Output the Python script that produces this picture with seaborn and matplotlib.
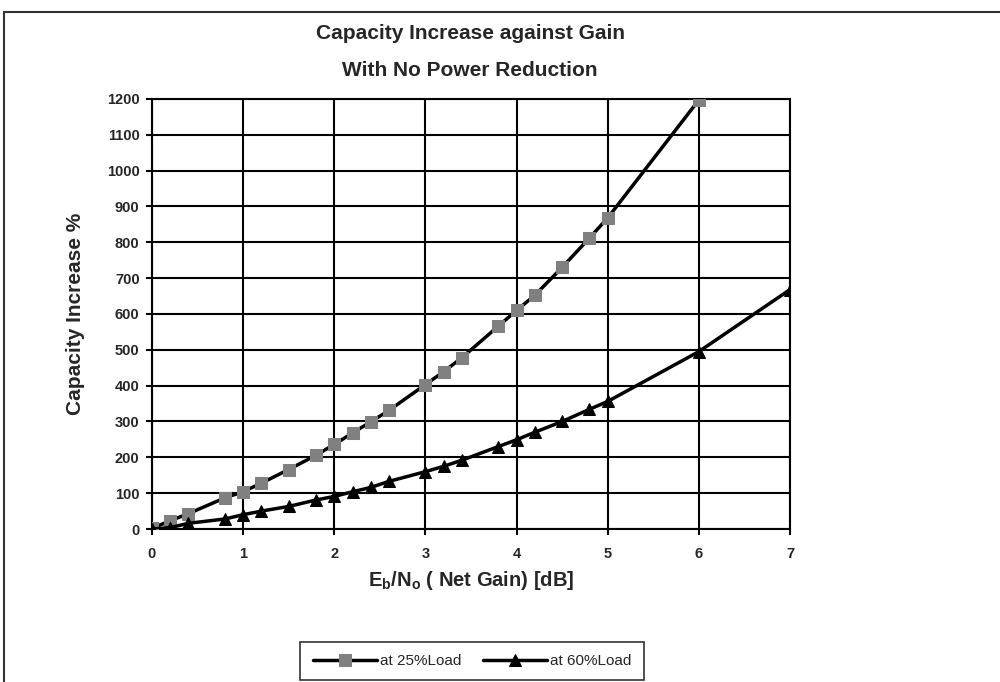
import numpy as np
import pandas as pd
import matplotlib
matplotlib.use("Agg")
import matplotlib.pyplot as plt
import seaborn as sns
from matplotlib.patches import Rectangle

sns.set_style("white")
plt.rcParams['font.family'] = ['Liberation Sans', 'DejaVu Sans']

# gain in dB
gain = [0, 0.2, 0.4, 0.8, 1.0, 1.2, 1.5, 1.8, 2.0, 2.2, 2.4, 2.6, 3.0, 3.2, 3.4,
        3.8, 4.0, 4.2, 4.5, 4.8, 5.0, 6.0]
gain60 = gain + [7.0]
load25 = [2, 23, 43, 87, 104, 128, 166, 206, 236, 268, 299, 331, 403, 439, 478,
          566, 610, 652, 730, 812, 868, 1197]
load60 = [0, 4, 16, 28, 40, 50, 63, 81, 91, 104, 116, 133, 160, 175, 192,
          230, 249, 270, 300, 334, 356, 495, 668]

df25 = pd.DataFrame({"gain": gain, "cap": load25})
df60 = pd.DataFrame({"gain": gain60, "cap": load60})

fig = plt.figure(figsize=(10, 6.82), dpi=100)
ax = fig.add_axes([0.152, 0.2243, 0.638, 0.6307])

sns.lineplot(data=df25, x="gain", y="cap", ax=ax, color="black", lw=2.5,
             marker="s", markersize=8, markerfacecolor="#808080",
             markeredgecolor="#808080", label="at 25%Load", zorder=3)
sns.lineplot(data=df60, x="gain", y="cap", ax=ax, color="black", lw=2.5,
             marker="^", markersize=9, markerfacecolor="black",
             markeredgecolor="black", label="at 60%Load", zorder=3)

ax.set_xlim(0, 7)
ax.set_ylim(0, 1200)
ax.set_xticks(range(0, 8))
ax.set_yticks(range(0, 1201, 100))
ax.grid(True, color="black", lw=1.5)
for s in ax.spines.values():
    s.set_color("black")
    s.set_linewidth(1.5)
ax.tick_params(axis="both", direction="out", length=4, width=1.5,
               color="black", labelsize=10.5, left=True, bottom=True)
ax.tick_params(axis="x", pad=9)
ax.tick_params(axis="y", pad=5)
for lab in ax.get_xticklabels() + ax.get_yticklabels():
    lab.set_fontweight("bold")

ax.set_xlabel(r"E$_\mathregular{b}$/N$_\mathregular{o}$ ( Net Gain) [dB]",
              fontsize=14.5, fontweight="bold", labelpad=6)
ax.set_ylabel("Capacity Increase %", fontsize=15, fontweight="bold", labelpad=16)

fig.text(0.47, 0.951, "Capacity Increase against Gain", ha="center", va="center",
         fontsize=15, fontweight="bold")
fig.text(0.47, 0.897, "With No Power Reduction", ha="center", va="center",
         fontsize=15, fontweight="bold")

leg = ax.legend(loc="center", bbox_to_anchor=(0.472, 0.031),
                bbox_transform=fig.transFigure, ncol=2, frameon=True,
                fontsize=11, handlelength=4.2, columnspacing=1.4,
                handletextpad=0.2, borderpad=0.8, fancybox=False)
leg.get_frame().set_edgecolor("black")
leg.get_frame().set_linewidth(1.2)

# outer chart frame
fig.patches.append(Rectangle((0.004, -0.05), 1.1, 0.982 + 0.05,
                             transform=fig.transFigure, fill=False,
                             edgecolor="#333333", lw=1.5))

fig.savefig("out.png", dpi=100)
